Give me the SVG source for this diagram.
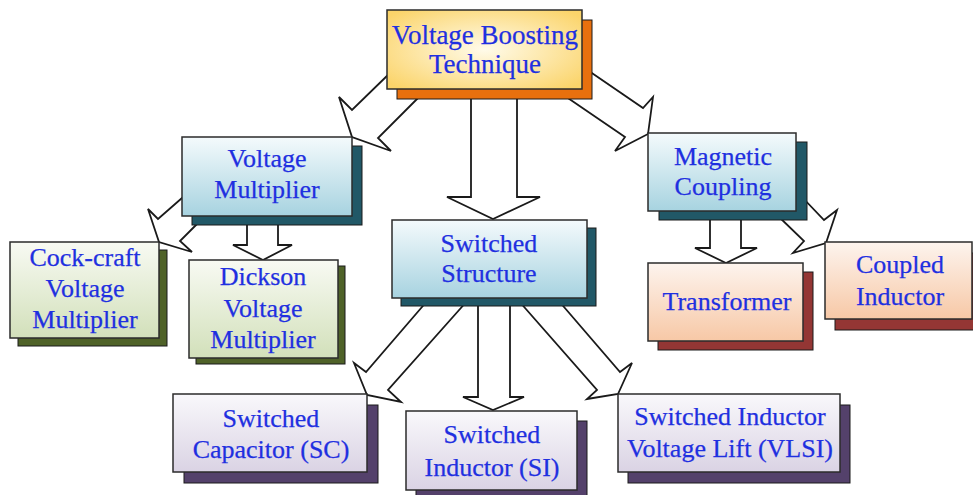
<svg xmlns="http://www.w3.org/2000/svg" width="973" height="495" viewBox="0 0 973 495">
<defs>
<radialGradient id="gY" cx="50%" cy="50%" r="65%">
<stop offset="0" stop-color="#FFFBEA"/>
<stop offset="1" stop-color="#FBD46A"/>
</radialGradient>
<linearGradient id="gT" x1="0" y1="0" x2="0" y2="1">
<stop offset="0" stop-color="#F4FAFC"/>
<stop offset="1" stop-color="#A7D3E0"/>
</linearGradient>
<linearGradient id="gG" x1="0" y1="0" x2="0" y2="1">
<stop offset="0" stop-color="#F8FAF3"/>
<stop offset="1" stop-color="#D2E0BA"/>
</linearGradient>
<linearGradient id="gP" x1="0" y1="0" x2="0" y2="1">
<stop offset="0" stop-color="#FDF4EE"/>
<stop offset="1" stop-color="#F7C8A6"/>
</linearGradient>
<linearGradient id="gU" x1="0" y1="0" x2="0" y2="1">
<stop offset="0" stop-color="#F9F8FB"/>
<stop offset="1" stop-color="#DAD3E4"/>
</linearGradient>
</defs>
<style>
.arr{fill:#fff;stroke:#1a1a1a;stroke-width:1.8;stroke-linejoin:miter}
.box{stroke:#2b2b2b;stroke-width:1.5}
.sh{stroke:#1a1a1a;stroke-width:1}
.t{font-family:"Liberation Serif","Times New Roman",serif;font-size:26px;fill:#1F30E0;stroke:#1F30E0;stroke-width:0.25;text-anchor:middle}
.big{font-size:27px}
</style>
<rect width="973" height="495" fill="#fff"/>
<g id="connectors">
<path class="arr" d="M471,92 L471,197 L447,197 L493,219 L540,197 L517,197 L517,92"/>
<path class="arr" d="M391,72 L352,110 L339,97 L352,137 L391,151 L378,138 L423,93"/>
<path class="arr" d="M586,69 L643,108 L653,97 L648,134 L615,151 L625,137 L562,94"/>
<path class="arr" d="M247,218 L247,245 L233,245 L263,260 L292,245 L278,245 L278,218"/>
<path class="arr" d="M190,191 L158,219 L148,209 L159,242 L192,252 L180,241 L205,216"/>
<path class="arr" d="M710,214 L710,248 L695,248 L726,263 L757,248 L741,248 L741,214"/>
<path class="arr" d="M801,196 L824,220 L837,210 L826,243 L793,253 L804,241 L776,214"/>
<path class="arr" d="M428,300 L366,372 L354,363 L367,395 L401,402 L388,390 L468,300"/>
<path class="arr" d="M478,300 L478,397 L463,397 L493,410 L524,397 L510,397 L510,300"/>
<path class="arr" d="M518,300 L597,390 L587,399 L618,394 L632,363 L620,372 L558,300"/>
</g>
<g id="voltage-boosting">
<rect class="sh" x="397" y="20" width="195" height="79" fill="#E8700E"/>
<rect class="box" x="387" y="10" width="195" height="79" fill="url(#gY)"/>
<text class="t big" x="485" y="44">Voltage Boosting</text>
<text class="t big" x="485" y="73">Technique</text>
</g>
<g id="voltage-multiplier">
<rect class="sh" x="192" y="146" width="170" height="79" fill="#215867"/>
<rect class="box" x="182" y="137" width="170" height="79" fill="url(#gT)"/>
<text class="t" x="267" y="167">Voltage</text>
<text class="t" x="267" y="198">Multiplier</text>
</g>
<g id="cock-craft">
<rect class="sh" x="18" y="250" width="149" height="96" fill="#4F6228"/>
<rect class="box" x="10" y="242" width="149" height="96" fill="url(#gG)"/>
<text class="t" x="85" y="266">Cock-craft</text>
<text class="t" x="85" y="297">Voltage</text>
<text class="t" x="85" y="328">Multiplier</text>
</g>
<g id="dickson">
<rect class="sh" x="196" y="266" width="149" height="98" fill="#4F6228"/>
<rect class="box" x="189" y="260" width="149" height="98" fill="url(#gG)"/>
<text class="t" x="263" y="285">Dickson</text>
<text class="t" x="263" y="317">Voltage</text>
<text class="t" x="263" y="348">Multiplier</text>
</g>
<g id="switched-structure">
<rect class="sh" x="401" y="228" width="195" height="78" fill="#215867"/>
<rect class="box" x="392" y="220" width="195" height="78" fill="url(#gT)"/>
<text class="t" x="489" y="252">Switched</text>
<text class="t" x="489" y="282">Structure</text>
</g>
<g id="magnetic-coupling">
<rect class="sh" x="659" y="142" width="148" height="78" fill="#215867"/>
<rect class="box" x="648" y="133" width="148" height="78" fill="url(#gT)"/>
<text class="t" x="723" y="165">Magnetic</text>
<text class="t" x="723" y="195">Coupling</text>
</g>
<g id="transformer">
<rect class="sh" x="658" y="272" width="155" height="78" fill="#943634"/>
<rect class="box" x="648" y="263" width="155" height="78" fill="url(#gP)"/>
<text class="t" x="727" y="310">Transformer</text>
</g>
<g id="coupled-inductor">
<rect class="sh" x="835" y="253" width="148" height="77" fill="#943634"/>
<rect class="box" x="825" y="242" width="147" height="77" fill="url(#gP)"/>
<text class="t" x="900" y="273">Coupled</text>
<text class="t" x="900" y="305">Inductor</text>
</g>
<g id="switched-capacitor">
<rect class="sh" x="184" y="405" width="194" height="78" fill="#54416B"/>
<rect class="box" x="173" y="394" width="194" height="78" fill="url(#gU)"/>
<text class="t" x="271" y="427">Switched</text>
<text class="t" x="271" y="458">Capacitor (SC)</text>
</g>
<g id="switched-inductor">
<rect class="sh" x="416" y="421" width="171" height="79" fill="#54416B"/>
<rect class="box" x="406" y="411" width="171" height="79" fill="url(#gU)"/>
<text class="t" x="492" y="443">Switched</text>
<text class="t" x="492" y="476">Inductor (SI)</text>
</g>
<g id="vlsi">
<rect class="sh" x="628" y="405" width="222" height="78" fill="#54416B"/>
<rect class="box" x="618" y="394" width="222" height="78" fill="url(#gU)"/>
<text class="t" x="730" y="425">Switched Inductor</text>
<text class="t" x="730" y="457">Voltage Lift (VLSI)</text>
</g>
</svg>
